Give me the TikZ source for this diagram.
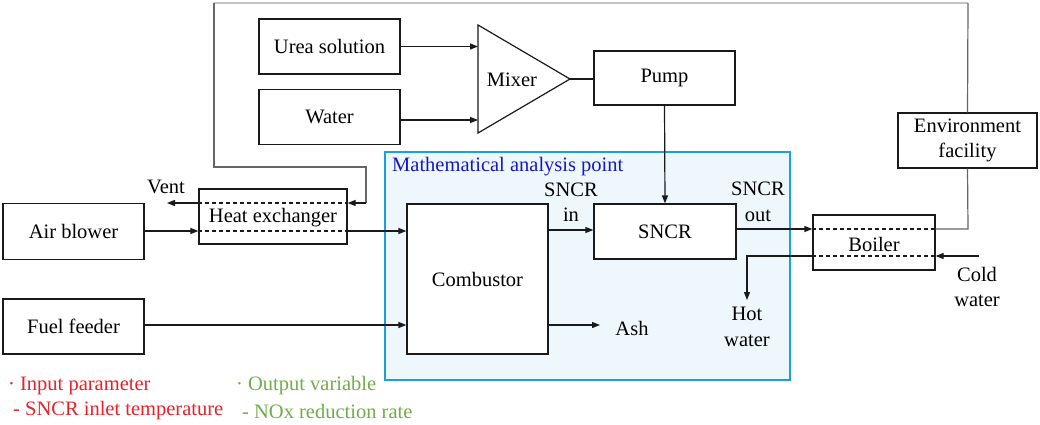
\documentclass[tikz,border=0pt]{standalone}
\usepackage{fontspec}
\setmainfont{Liberation Serif}
\newfontfamily\diagserif{Liberation Serif}
\usetikzlibrary{arrows.meta}
\definecolor{lnk}{HTML}{1A1A1A}
\definecolor{loopgray}{HTML}{666666}
\definecolor{toplight}{HTML}{C4C4C4}
\definecolor{mapfill}{HTML}{EEF8FC}
\definecolor{mapedge}{HTML}{1AA0DC}
\definecolor{mapblue}{HTML}{1616C8}
\definecolor{legred}{HTML}{E8202A}
\definecolor{leggreen}{HTML}{70AD47}
\tikzset{
  txt/.style={font=\diagserif\fontsize{20.5}{25.5}\selectfont, inner sep=0pt, align=center, text=black},
  box/.style={txt, draw=lnk, line width=1.2pt, fill=white},
  arr/.style={draw=lnk, line width=1.2pt, -{Triangle[length=8pt,width=6pt]}},
  ln/.style={draw=lnk, line width=1.2pt},
  dsh/.style={draw=lnk, line width=1.1pt, dashed, dash pattern=on 4pt off 3pt},
}
\begin{document}
\begin{tikzpicture}[x=1pt,y=-1pt]
\useasboundingbox (0,0) rectangle (1040,424);
% analysis region
\node[draw=mapedge, line width=2.6pt, fill=mapfill, minimum width=405pt, minimum height=228pt, inner sep=0pt] (region) at (587.5,266) {};
\node[txt, text=mapblue, anchor=west] (regionlabel) at (392,167) {Mathematical analysis point};

% boxes
\node[box, minimum width=141pt, minimum height=55pt] (urea) at (329.5,46.5) {Urea solution};
\node[box, minimum width=141pt, minimum height=55pt] (water) at (329.5,117) {Water};
\node[box, minimum width=141pt, minimum height=54pt] (pump) at (664.5,78) {Pump};
\node[box, minimum width=141pt, minimum height=56pt] (air) at (73.5,231.5) {Air blower};
\node[box, minimum width=148pt, minimum height=55pt, text=white] (heat) at (273,216.5) {Heat exchanger};
\node[box, minimum width=141pt, minimum height=150pt] (comb) at (477.5,279) {Combustor};
\node[box, minimum width=141pt, minimum height=55pt] (fuel) at (73.5,326.5) {Fuel feeder};
\node[box, minimum width=142pt, minimum height=55pt] (sncr) at (665,231.5) {SNCR};
\node[box, minimum width=122pt, minimum height=55pt, text=white] (boiler) at (874,242.5) {Boiler};
\node[box, minimum width=139pt, minimum height=55pt] (env) at (967.5,140.5) {Environment\\facility};

% dashed internal lines
\draw[dsh] (heat.west |- 0,203) -- (heat.east |- 0,203);
\draw[dsh] (heat.west |- 0,231) -- (heat.east |- 0,231);
\node[txt] (heatlabel) at (273,218) {Heat exchanger};
\draw[dsh] (boiler.west |- 0,229) -- (boiler.east |- 0,229);
\draw[dsh] (boiler.west |- 0,256) -- (boiler.east |- 0,256);
\node[txt] (boilerlabel) at (874,244) {Boiler};

% mixer
\coordinate (mixtop) at (478,25);
\coordinate (mixapex) at (570,79);
\coordinate (mixbot) at (478,133);
\draw[ln, fill=white] (mixtop) -- (mixapex) -- (mixbot) -- cycle;
\node[txt] (mixer) at (512,80) {Mixer};

% connectors
\draw[arr] (urea.east) -- (mixtop |- urea.east);
\draw[arr] (water.east |- 0,120) -- (mixtop |- 0,120);
\draw[ln] (mixapex) -- (pump.west |- mixapex);
\draw[arr] (pump.south) -- (sncr.north);

\coordinate (vent) at (167,203);
\draw[arr] (heat.west |- vent) -- (vent);
\node[txt] (ventlabel) at (166,187) {Vent};

% return loop from environment facility
\coordinate (ltr) at (968,3);
\coordinate (ltl) at (214,3);
\coordinate (lmid) at (214,167);
\coordinate (lright) at (366,167);
\coordinate (ldown) at (366,203);
\draw[draw=toplight, line width=1.2pt] (ltr) -- (ltl);
\draw[draw=loopgray, line width=1.2pt] (env.north) -- (ltr);
\draw[draw=loopgray, line width=1.2pt] (ltl) -- (lmid) -- (lright) -- (ldown);
\draw[arr] (ldown) -- (heat.east |- ldown);

\draw[arr] (air.east |- 0,231) -- (heat.west |- 0,231);
\draw[arr] (heat.east |- 0,231) -- (comb.west |- 0,231);
\draw[arr] (fuel.east |- 0,325) -- (comb.west |- 0,325);
\coordinate (ash) at (600,325);
\draw[arr] (comb.east |- ash) -- (ash);
\node[txt] (ashlabel) at (632,328) {Ash};
\draw[arr] (comb.east |- 0,230) -- (sncr.west |- 0,230);
\node[txt] (sncrin) at (571,202) {SNCR\\in};
\draw[arr] (sncr.east |- 0,229) -- (boiler.west |- 0,229);
\node[txt] (sncrout) at (758,202) {SNCR\\out};
\coordinate (envcorner) at (968,229);
\draw[draw=loopgray, line width=1.2pt] (boiler.east |- envcorner) -- (envcorner) -- (env.south);

\coordinate (cold) at (979,256);
\draw[arr] (cold) -- (boiler.east |- cold);
\node[txt] (coldlabel) at (977,287) {Cold\\water};
\coordinate (hot) at (747,300);
\draw[arr] (boiler.west |- 0,256) -| (hot);
\node[txt] (hotlabel) at (747,327) {Hot\\water};

% legend
\node[txt, text=legred, anchor=west] (leg1) at (8,386) {· Input parameter};
\node[txt, text=legred, anchor=west] (leg2) at (13,411) {- SNCR inlet temperature};
\node[txt, text=leggreen, anchor=west] (leg3) at (236,386) {· Output variable};
\node[txt, text=leggreen, anchor=west] (leg4) at (242,411) {- NOx reduction rate};
\end{tikzpicture}
\end{document}
